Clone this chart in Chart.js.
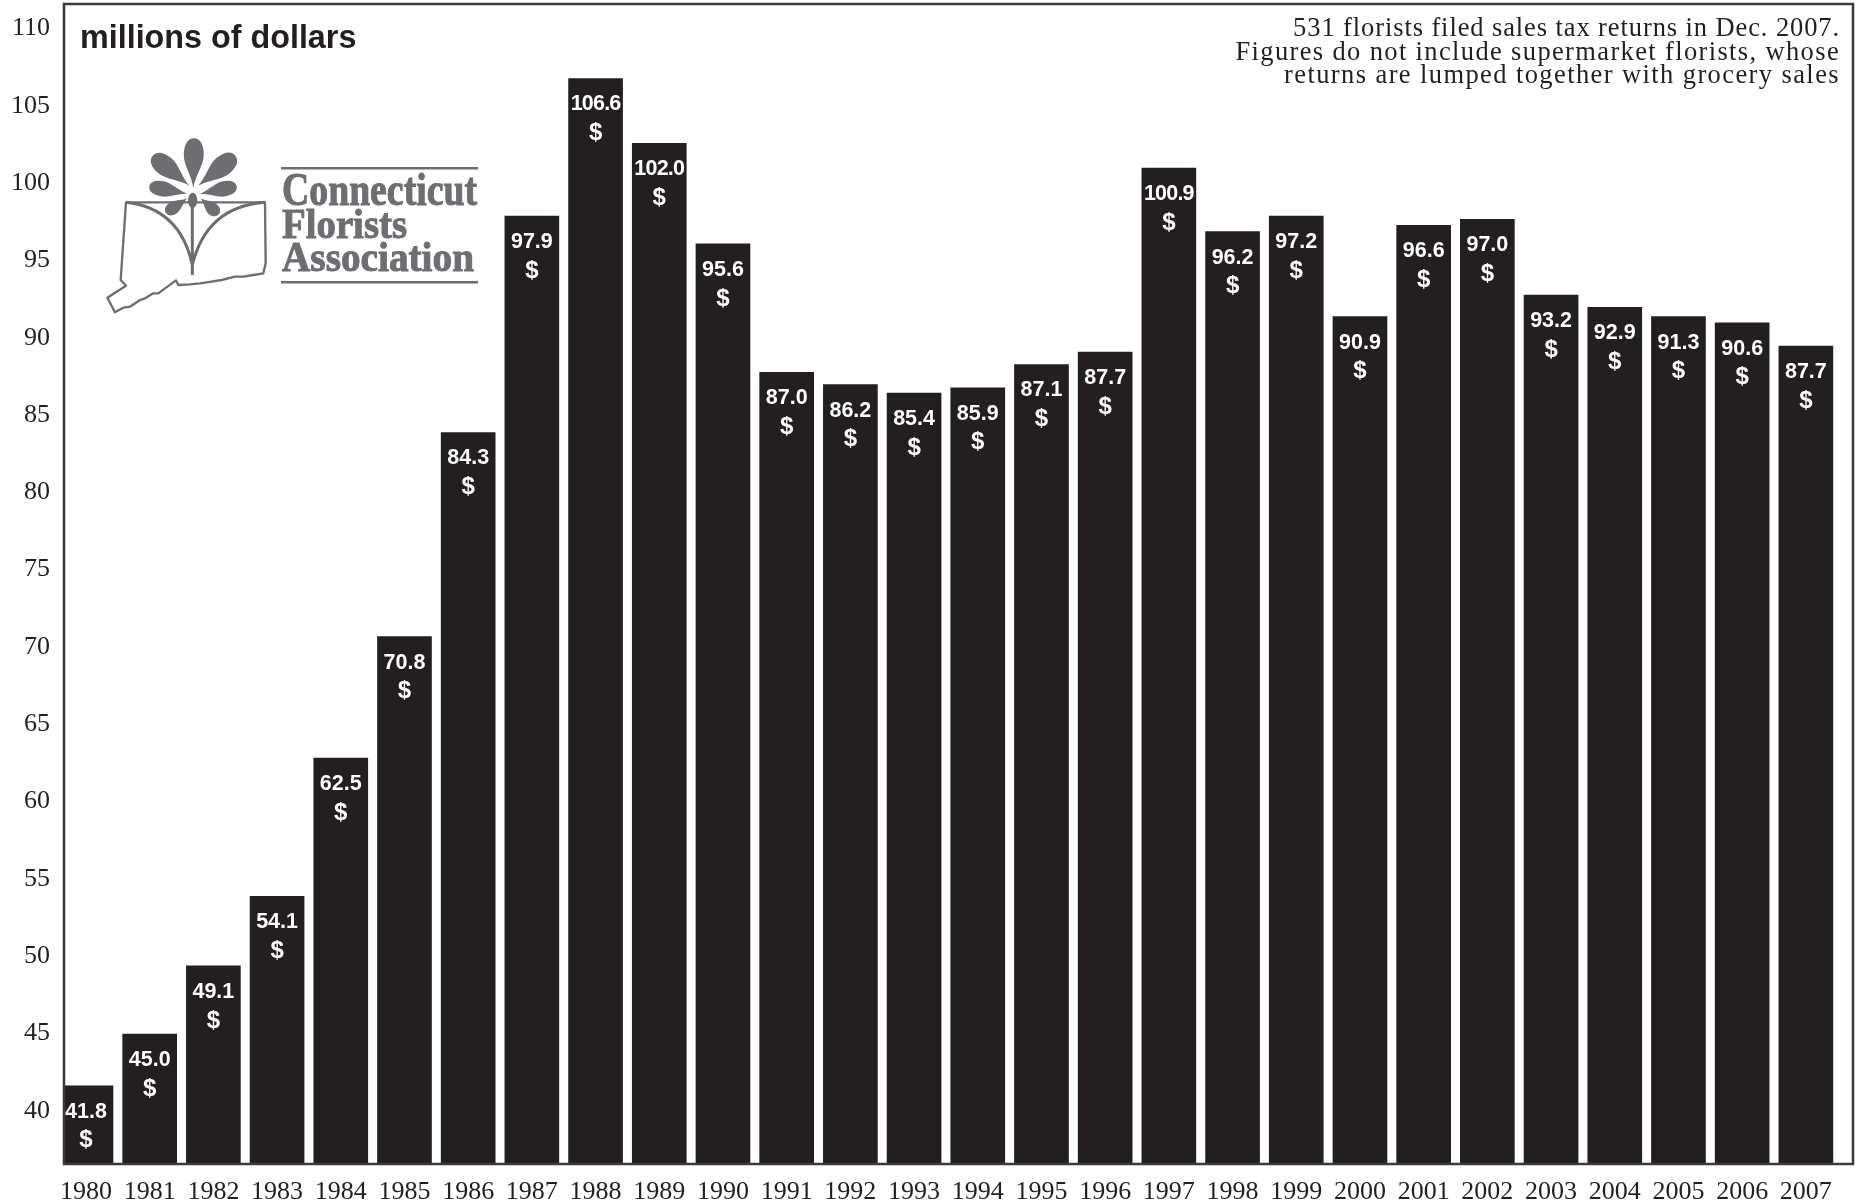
<!DOCTYPE html>
<html>
<head>
<meta charset="utf-8">
<title>Connecticut florist sales</title>
<script src="https://cdn.jsdelivr.net/npm/chart.js@4"></script>
<style>
html, body { margin: 0; padding: 0; background: #fff; }
canvas { display: block; }
</style>
</head>
<body>
<canvas id="sales" width="1858" height="1204"></canvas>
<script>
// years along the bottom
var years = [1980, 1981, 1982, 1983, 1984, 1985, 1986, 1987, 1988, 1989, 1990, 1991, 1992, 1993,
    1994, 1995, 1996, 1997, 1998, 1999, 2000, 2001, 2002, 2003, 2004, 2005, 2006, 2007];

// bar heights as measured against the left axis
var barHeights = [41.55, 44.9, 49.3, 53.8, 62.75, 70.6, 83.8, 97.8, 106.7, 102.5, 96.0, 87.7, 86.9, 86.35,
    86.7, 88.2, 89.0, 100.9, 96.8, 97.8, 91.3, 97.2, 97.6, 92.7, 91.9, 91.3, 90.9, 89.4];

// figures printed on the bars (not always the same as the height drawn)
var printedValues = ["41.8", "45.0", "49.1", "54.1", "62.5", "70.8", "84.3", "97.9", "106.6", "102.0", "95.6", "87.0", "86.2", "85.4",
    "85.9", "87.1", "87.7", "100.9", "96.2", "97.2", "90.9", "96.6", "97.0", "93.2", "92.9", "91.3", "90.6", "87.7"];

var axisTitle = "millions of dollars";
var noteLines = [
    "531 florists filed sales tax returns in Dec. 2007.",
    "Figures do not include supermarket florists, whose",
    "returns are lumped together with grocery sales"
];
var logoLines = ["Connecticut", "Florists", "Association"];

var INK = '#231f20';
var LOGO = '#6d6e71';
var SERIF = '"Liberation Serif", serif';
var SANS = '"Liberation Sans", sans-serif';

// numbers on the bars with the $ under them
var barLabels = {
    id: 'barLabels',
    afterDatasetsDraw: function (chart) {
        var ctx = chart.ctx;
        ctx.save();
        ctx.fillStyle = '#fff';
        ctx.textAlign = 'center';
        ctx.textBaseline = 'middle';
        chart.getDatasetMeta(0).data.forEach(function (bar, i) {
            ctx.font = 'bold 21.5px ' + SANS;
            ctx.letterSpacing = printedValues[i].length > 4 ? '-0.8px' : '0px';
            ctx.fillText(printedValues[i], bar.x, bar.y + 26);
            ctx.letterSpacing = '0px';
            ctx.font = 'bold 24px ' + SANS;
            ctx.fillText('$', bar.x, bar.y + 55);
        });
        ctx.restore();
    }
};

// box round the plot
var frame = {
    id: 'frame',
    afterDatasetsDraw: function (chart) {
        var a = chart.chartArea, ctx = chart.ctx;
        ctx.save();
        ctx.strokeStyle = '#3a3a3c';
        ctx.lineWidth = 2.5;
        ctx.strokeRect(a.left, a.top, a.right - a.left, a.bottom - a.top);
        ctx.restore();
    }
};

function petal(ctx, tx, ty, hx, hy, w) {
    // teardrop from a thin tip to a round head
    var dx = hx - tx, dy = hy - ty, len = Math.sqrt(dx * dx + dy * dy);
    var nx = -dy / len * w / 2, ny = dx / len * w / 2;
    var mx = tx + dx * 0.66, my = ty + dy * 0.66;
    ctx.beginPath();
    ctx.moveTo(tx, ty);
    ctx.bezierCurveTo(tx + dx * 0.25 + nx * 0.2, ty + dy * 0.25 + ny * 0.2, mx + nx - dx * 0.2, my + ny - dy * 0.2, mx + nx, my + ny);
    ctx.bezierCurveTo(mx + nx + dx * 0.2, my + ny + dy * 0.2, hx + nx * 0.65, hy + ny * 0.65, hx, hy);
    ctx.bezierCurveTo(hx - nx * 0.65, hy - ny * 0.65, mx - nx + dx * 0.2, my - ny + dy * 0.2, mx - nx, my - ny);
    ctx.bezierCurveTo(mx - nx - dx * 0.2, my - ny - dy * 0.2, tx + dx * 0.25 - nx * 0.2, ty + dy * 0.25 - ny * 0.2, tx, ty);
    ctx.fill();
}

// association logo and the two text blocks inside the plot
var annotations = {
    id: 'annotations',
    afterDraw: function (chart) {
        var ctx = chart.ctx;
        ctx.save();
        ctx.fillStyle = INK;
        ctx.textBaseline = 'alphabetic';
        ctx.textAlign = 'left';
        ctx.font = 'bold 32.3px ' + SANS;
        ctx.fillText(axisTitle, 80, 48);

        ctx.textAlign = 'right';
        ctx.font = '26.5px ' + SERIF;
        var noteSpacing = ['0.9px', '1.36px', '1.4px'];
        noteLines.forEach(function (line, i) {
            ctx.letterSpacing = noteSpacing[i];
            ctx.fillText(line, 1840, 36 + i * 23.7);
        });
        ctx.letterSpacing = '0px';

        // flower and state outline
        ctx.save();
        ctx.translate(100, 125);
        ctx.scale(1 / 3, 1 / 3);
        ctx.fillStyle = LOGO;
        ctx.strokeStyle = LOGO;
        petal(ctx, 280, 188, 282, 40, 60);
        petal(ctx, 268, 182, 158, 92, 60);
        petal(ctx, 295, 182, 406, 92, 60);
        petal(ctx, 262, 206, 148, 184, 46);
        petal(ctx, 300, 206, 410, 184, 46);
        petal(ctx, 262, 220, 198, 264, 38);
        petal(ctx, 302, 220, 356, 268, 38);
        ctx.beginPath();
        ctx.ellipse(278, 226, 14, 23, 0, 0, Math.PI * 2);
        ctx.fill();

        ctx.lineWidth = 9;
        ctx.beginPath();
        ctx.moveTo(277, 240);
        ctx.lineTo(277, 450);
        ctx.moveTo(78, 232);
        ctx.quadraticCurveTo(240, 250, 277, 420);
        ctx.moveTo(495, 232);
        ctx.quadraticCurveTo(320, 245, 277, 420);
        ctx.stroke();

        ctx.lineJoin = 'round';
        ctx.lineWidth = 7;
        ctx.beginPath();
        ctx.moveTo(78, 232);
        [[62, 465], [78, 482], [22, 518], [45, 562], [70, 548], [90, 545], [120, 525], [135, 520], [160, 505],
            [175, 505], [195, 490], [228, 466], [235, 480], [270, 478], [300, 475], [320, 472], [365, 465],
            [405, 455], [430, 455], [460, 450], [490, 445], [497, 415], [495, 232]].forEach(function (p) {
            ctx.lineTo(p[0], p[1]);
        });
        ctx.closePath();
        ctx.stroke();
        ctx.restore();

        // name of the association, thickened a bit with a stroke
        ctx.fillStyle = LOGO;
        ctx.strokeStyle = LOGO;
        ctx.lineWidth = 1;
        ctx.textAlign = 'left';
        ctx.font = 'bold 46px ' + SERIF;
        ctx.fillText(logoLines[0], 282, 205, 195);
        ctx.strokeText(logoLines[0], 282, 205, 195);
        ctx.font = 'bold 43px ' + SERIF;
        ctx.fillText(logoLines[1], 282, 238, 125);
        ctx.strokeText(logoLines[1], 282, 238, 125);
        ctx.fillText(logoLines[2], 282, 271, 192);
        ctx.strokeText(logoLines[2], 282, 271, 192);
        ctx.fillRect(281, 167, 197, 2.5);
        ctx.fillRect(281, 281, 197, 2.5);
        ctx.restore();
    }
};

var dataset = {
    label: axisTitle,
    data: years.map(function (y, i) { return { x: y, y: barHeights[i] }; }),
    backgroundColor: INK,
    borderWidth: 0,
    barThickness: 54
};

// tick label half heights would otherwise push the plot in from the edges
function noPadding(scale) {
    scale.paddingTop = 0;
    scale.paddingBottom = 0;
    scale.paddingLeft = 0;
    scale.paddingRight = 0;
}

var myChart = new Chart(document.getElementById('sales'), {
    type: 'bar',
    data: { datasets: [dataset] },
    plugins: [barLabels, frame, annotations],
    options: {
        responsive: false,
        animation: false,
        devicePixelRatio: 1,
        layout: { padding: { top: 4, right: 5, left: 0, bottom: 0 } },
        plugins: { legend: { display: false }, tooltip: { enabled: false } },
        scales: {
            x: {
                type: 'linear',
                offset: false,
                min: 1979.655,
                max: 2007.74,
                afterFit: function (scale) { scale.height = 40; noPadding(scale); },
                grid: { display: false, drawTicks: false },
                border: { display: false },
                ticks: {
                    stepSize: 1,
                    includeBounds: false,
                    autoSkip: false,
                    maxRotation: 0,
                    padding: 13,
                    color: INK,
                    font: { family: SERIF, size: 26 },
                    callback: function (value) { return String(value); }
                }
            },
            y: {
                min: 36.49,
                max: 111.52,
                afterFit: function (scale) { scale.width = 64; noPadding(scale); },
                grid: { display: false, drawTicks: false },
                border: { display: false },
                ticks: {
                    stepSize: 5,
                    includeBounds: false,
                    padding: 14,
                    labelOffset: 1,
                    color: INK,
                    font: { family: SERIF, size: 26 }
                }
            }
        }
    }
});
</script>
</body>
</html>
